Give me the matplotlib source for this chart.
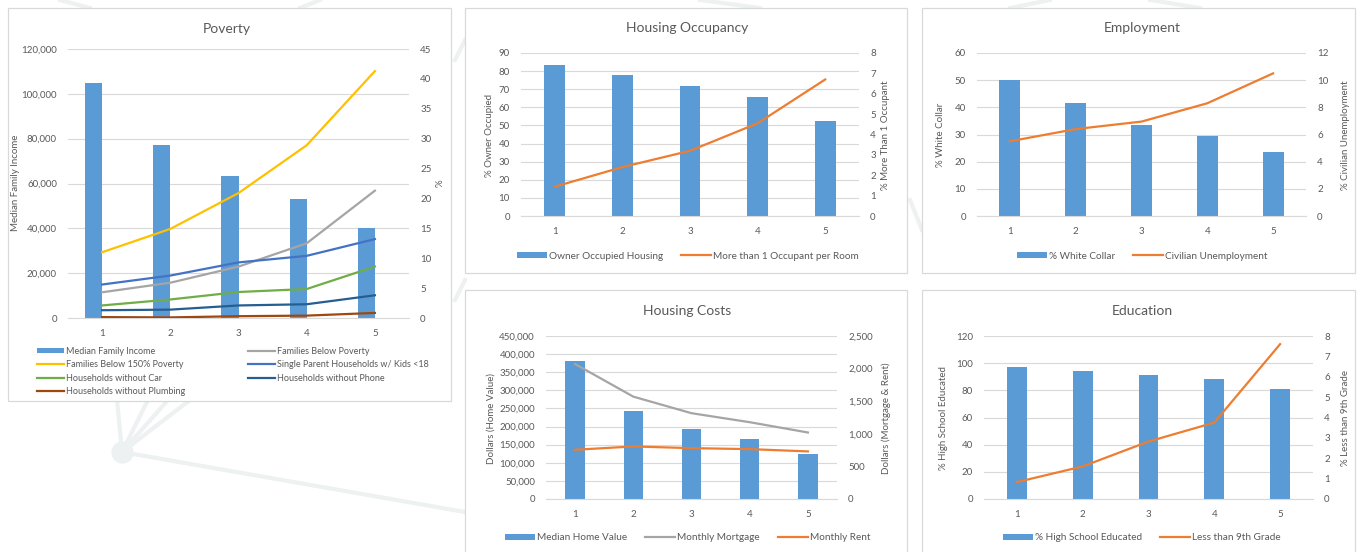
import matplotlib.pyplot as plt
from matplotlib.patches import Rectangle
from matplotlib.lines import Line2D
from matplotlib.ticker import FuncFormatter, MultipleLocator

# ---- data ----
quintiles = [1, 2, 3, 4, 5]

median_family_income = [105000, 77000, 63500, 53000, 40000]
families_below_150_poverty = [11.0, 14.9, 20.9, 28.9, 41.3]
families_below_poverty = [4.3, 5.9, 8.6, 12.5, 21.3]
single_parent_kids = [5.6, 7.1, 9.3, 10.4, 13.2]
households_without_car = [2.1, 3.1, 4.35, 4.85, 8.6]
households_without_phone = [1.3, 1.4, 2.1, 2.3, 3.8]
households_without_plumbing = [0.15, 0.1, 0.3, 0.4, 0.85]

owner_occupied = [83.2, 78.0, 72.0, 65.5, 52.2]
more_than_one_occupant = [1.44, 2.4, 3.2, 4.55, 6.7]

white_collar = [50.2, 41.6, 33.6, 29.6, 23.5]
civilian_unemployment = [5.5, 6.4, 6.95, 8.3, 10.5]

median_home_value = [381000, 244000, 193000, 165000, 124000]
monthly_mortgage = [2070, 1570, 1316, 1178, 1020]
monthly_rent = [755, 806, 780, 765, 730]

high_school_educated = [97.0, 94.6, 91.5, 88.4, 81.0]
less_than_9th = [0.83, 1.6, 2.82, 3.75, 7.6]

# ---- style ----
BLUE = '#5B9BD5'
ORANGE = '#ED7D31'
GRAY = '#A5A5A5'
YELLOW = '#FFC000'
MBLUE = '#4472C4'
GREEN = '#70AD47'
DBLUE = '#255E91'
BROWN = '#9E480E'
TXT = '#595959'
GRID = '#D9D9D9'

plt.rcParams['font.family'] = ['Lato', 'DejaVu Sans']
W, H = 1359, 552
fig = plt.figure(figsize=(W / 100, H / 100), dpi=100)
fig.patch.set_facecolor('white')

def fx(x):
    return x / W

def fy(y):
    return 1 - y / H

# faint background network lines
deco = '#EEF1F1'
for (x0, y0, x1, y1) in [(122, 452, 117, 400), (122, 452, 148, 400), (122, 452, 168, 400),
                         (122, 452, 190, 400), (122, 452, 465, 512), (60, 0, 90, 8),
                         (320, 0, 300, 8), (700, 0, 760, 8), (1050, 0, 1010, 8),
                         (1150, 0, 1200, 8), (455, 60, 465, 40), (910, 200, 922, 230),
                         (455, 300, 465, 280), (1300, 552, 1340, 545)]:
    fig.add_artist(Line2D([fx(x0), fx(x1)], [fy(y0), fy(y1)], color=deco, lw=3,
                          transform=fig.transFigure, zorder=-3))
fig.add_artist(Line2D([fx(122)], [fy(452)], marker='o', markersize=15, color=deco,
                      transform=fig.transFigure, zorder=-3))

# panel boxes (x0, y0, x1, y1) in px
for (x0, y0, x1, y1) in [(8, 8, 451, 401), (465, 8, 907, 273), (922, 8, 1355, 273),
                         (465, 290, 907, 560), (922, 290, 1355, 560)]:
    fig.add_artist(Rectangle((fx(x0), fy(y1)), fx(x1 - x0), (y1 - y0) / H, facecolor='white',
                             edgecolor='#D9D9D9', lw=0.9, transform=fig.transFigure, zorder=-2))

thousands = FuncFormatter(lambda v, p: f'{int(v):,}')

def make_axes(x0, y0, x1, y1, ymax, ystep, rmax, rstep, lfmt=None, rfmt=None):
    ax = fig.add_axes([fx(x0), fy(y1), fx(x1 - x0), (y1 - y0) / H])
    ax.set_facecolor('none')
    ax.set_xlim(0.5, 5.5)
    ax.set_ylim(0, ymax)
    ax.yaxis.set_major_locator(MultipleLocator(ystep))
    ax.grid(axis='y', color=GRID, lw=0.8)
    ax.set_axisbelow(True)
    for s in ['top', 'left', 'right']:
        ax.spines[s].set_visible(False)
    ax.spines['bottom'].set_color(GRID)
    ax.tick_params(length=0, colors=TXT, labelsize=7)
    ax.tick_params(axis='y', pad=8)
    ax.tick_params(axis='x', pad=8)
    ax.set_xticks(quintiles)
    if lfmt:
        ax.yaxis.set_major_formatter(lfmt)
    ax2 = ax.twinx()
    ax2.set_ylim(0, rmax)
    ax2.yaxis.set_major_locator(MultipleLocator(rstep))
    for s in ax2.spines.values():
        s.set_visible(False)
    ax2.tick_params(length=0, colors=TXT, labelsize=7, pad=8)
    if rfmt:
        ax2.yaxis.set_major_formatter(rfmt)
    return ax, ax2

def labels(title, tx, ty, left, lx, right, rx, cy):
    fig.text(fx(tx), fy(ty), title, ha='center', va='center', fontsize=10, color=TXT)
    fig.text(fx(lx), fy(cy), left, rotation=90, ha='center', va='center', fontsize=7, color=TXT)
    fig.text(fx(rx), fy(cy), right, rotation=90, ha='center', va='center', fontsize=7, color=TXT)

def small_legend(handles, names, ncol, cx, cy):
    fig.legend(handles, names, ncol=ncol, loc='center', bbox_to_anchor=(fx(cx), fy(cy)),
               frameon=False, fontsize=7.2, labelcolor=TXT, handlelength=3.0, handleheight=0.5,
               handletextpad=0.2, columnspacing=1.8, borderaxespad=0)

# ---- Poverty ----
ax, ax2 = make_axes(68, 49, 409, 318, 120000, 20000, 45, 5, lfmt=thousands)
b = ax.bar(quintiles, median_family_income, width=-0.25, align='edge', color=BLUE)
l1, = ax2.plot(quintiles, families_below_poverty, color=GRAY, lw=1.6)
l2, = ax2.plot(quintiles, families_below_150_poverty, color=YELLOW, lw=1.6)
l3, = ax2.plot(quintiles, single_parent_kids, color=MBLUE, lw=1.6)
l4, = ax2.plot(quintiles, households_without_car, color=GREEN, lw=1.6)
l5, = ax2.plot(quintiles, households_without_phone, color=DBLUE, lw=1.6)
l6, = ax2.plot(quintiles, households_without_plumbing, color=BROWN, lw=1.6)
labels('Poverty', 227, 29, 'Median Family Income', 16, '%', 440, 183)
# legend is filled column by column, so order entries to read row-wise
fig.legend([b, l2, l4, l6, l1, l3, l5],
           ['Median Family Income', 'Families Below 150% Poverty', 'Households without Car',
            'Households without Plumbing', 'Families Below Poverty',
            'Single Parent Households w/ Kids <18', 'Households without Phone'],
           ncol=2, loc='upper left', bbox_to_anchor=(fx(33), fy(343)),
           frameon=False, fontsize=6.5, labelcolor=TXT, handlelength=3.0, handleheight=0.5,
           handletextpad=0.2, columnspacing=7.0, labelspacing=0.5, borderaxespad=0)

# ---- Housing Occupancy ----
ax, ax2 = make_axes(521, 53, 859, 216, 90, 10, 8, 1)
b = ax.bar(quintiles, owner_occupied, width=0.31, color=BLUE)
l1, = ax2.plot(quintiles, more_than_one_occupant, color=ORANGE, lw=1.6)
labels('Housing Occupancy', 687, 28, '% Owner Occupied', 489, '% More Than 1 Occupant', 886, 135)
small_legend([b, l1], ['Owner Occupied Housing', 'More than 1 Occupant per Room'], 2, 688, 256)

# ---- Employment ----
ax, ax2 = make_axes(977, 53, 1306, 216, 60, 10, 12, 2)
b = ax.bar(quintiles, white_collar, width=0.32, color=BLUE)
l1, = ax2.plot(quintiles, civilian_unemployment, color=ORANGE, lw=1.6)
labels('Employment', 1142, 28, '% White Collar', 941, '% Civilian Unemployment', 1345, 135)
small_legend([b, l1], ['% White Collar', 'Civilian Unemployment'], 2, 1142, 256)

# ---- Housing Costs ----
ax, ax2 = make_axes(546, 336, 837, 499, 450000, 50000, 2500, 500, lfmt=thousands, rfmt=thousands)
b = ax.bar(quintiles, median_home_value, width=0.33, color=BLUE)
l1, = ax2.plot(quintiles, monthly_mortgage, color=GRAY, lw=1.6)
l2, = ax2.plot(quintiles, monthly_rent, color=ORANGE, lw=1.6)
labels('Housing Costs', 687, 311, 'Dollars (Home Value)', 491, 'Dollars (Mortgage & Rent)', 886, 418)
small_legend([b, l1, l2], ['Median Home Value', 'Monthly Mortgage', 'Monthly Rent'], 3, 688, 538)

# ---- Education ----
ax, ax2 = make_axes(984, 336, 1313, 499, 120, 20, 8, 1)
b = ax.bar(quintiles, high_school_educated, width=0.30, color=BLUE)
l1, = ax2.plot(quintiles, less_than_9th, color=ORANGE, lw=1.6)
labels('Education', 1142, 311, '% High School Educated', 943, '% Less than 9th Grade', 1346, 418)
small_legend([b, l1], ['% High School Educated', 'Less than 9th Grade'], 2, 1142, 538)

fig.savefig('out.png', dpi=100)
